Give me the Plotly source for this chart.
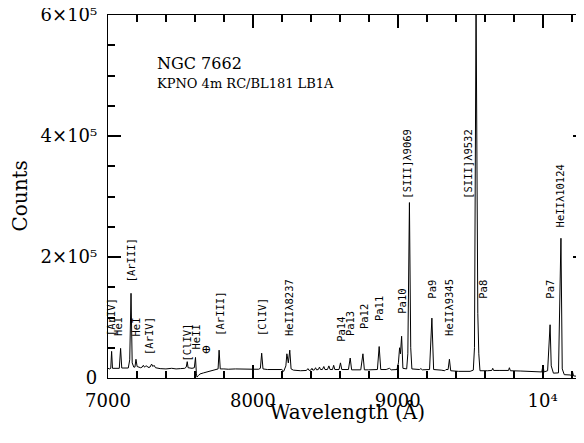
import plotly.graph_objects as go

# Spectrum of NGC 7662
wavelength = [
    7000, 7012, 7019, 7025, 7031, 7060, 7078, 7087, 7095, 7140,
    7150, 7159, 7167, 7178, 7186, 7193, 7201, 7225, 7236, 7244,
    7252, 7260, 7268, 7276, 7290, 7301, 7310, 7318, 7328, 7360,
    7400, 7440, 7470, 7500, 7530, 7540, 7547, 7553, 7580, 7596,
    7604, 7610, 7614, 7625, 7634, 7660, 7680, 7705, 7726, 7745,
    7760, 7767, 7775, 7800, 7830, 7880, 7920, 7960, 8000, 8040,
    8052, 8061, 8070, 8100, 8150, 8200, 8213, 8220, 8228, 8235,
    8245, 8255, 8264, 8280, 8330, 8370, 8380, 8388, 8400, 8408,
    8414, 8425, 8433, 8440, 8452, 8460, 8467, 8480, 8490, 8498,
    8515, 8525, 8533, 8550, 8558, 8566, 8595, 8605, 8614, 8660,
    8672, 8682, 8745, 8760, 8770, 8800, 8860, 8872, 8883, 8920,
    8943, 8955, 8995, 9005, 9013, 9019, 9027, 9036, 9062, 9070,
    9081, 9090, 9098, 9150, 9160, 9170, 9220, 9236, 9248, 9300,
    9325, 9333, 9348, 9357, 9366, 9420, 9500, 9522, 9530, 9541,
    9547, 9553, 9560, 9568, 9620, 9650, 9656, 9662, 9700, 9765,
    9771, 9778, 9850, 9900, 9950, 9995, 10003, 10010, 10035, 10045,
    10052, 10060, 10075, 10110, 10118, 10127, 10136, 10150, 10190, 10200,
    10207, 10214, 10250, 10300,
]
counts = [
    16000, 15000, 16000, 44000, 16000, 15500, 16000, 49000, 16500, 16500,
    30000, 140000, 25000, 18000, 18000, 31000, 19000, 17000, 18000, 21000,
    18000, 19500, 20000, 17500, 18000, 23000, 19000, 21000, 17000, 15500,
    15000, 16000, 15000, 15500, 16000, 18000, 27000, 17000, 16000, 17000,
    34000, 8000, 1500, 4000, 6600, 8500, 10000, 12000, 13000, 14000,
    15000, 46000, 15000, 15000, 14500, 15000, 14500, 15000, 14500, 14500,
    16000, 41000, 15000, 14000, 14000, 14000, 11000, 15000, 20000, 40000,
    25000, 46000, 15000, 13000, 12000, 12500, 15500, 12500, 13000, 16000,
    13000, 13500, 17000, 13500, 14000, 18000, 14000, 14000, 19000, 14000,
    14000, 20000, 14000, 14000, 21000, 14000, 14000, 25000, 14000, 14000,
    33000, 13500, 13500, 40000, 13500, 13500, 14000, 52000, 14000, 14000,
    16000, 13500, 14000, 25000, 50000, 40000, 69000, 16000, 15000, 40000,
    290000, 50000, 15000, 14000, 15500, 13500, 14000, 99000, 14000, 13000,
    12000, 14000, 14000, 31000, 12000, 11000, 11000, 13000, 50000, 620000,
    196000, 107000, 40000, 12000, 12000, 12500, 16000, 12500, 12500, 12500,
    17000, 12000, 11500, 11000, 10500, 10000, 21000, 10000, 12000, 50000,
    88000, 20000, 8000, 8500, 100000, 231000, 15000, 5500, 5000, 4000,
    10000, 3500, 2500, 1500,
]

# Line identifications: label text, wavelength, height of label base
line_names = [
    "[ArIV]", "HeI", "[ArIII]", "HeI", "[ArIV]", "[ClIV]", "HeII",
    "[ArIII]", "[ClIV]", "HeIIλ8237", "Pa14", "Pa13", "Pa12", "Pa11",
    "Pa10", "[SIII]λ9069", "Pa9", "HeIIλ9345", "[SIII]λ9532", "Pa8",
    "Pa7", "HeIIλ10124",
]
line_wave = [
    7021, 7072, 7161, 7200, 7283, 7542, 7606,
    7772, 8063, 8254, 8611, 8675, 8764, 8875,
    9024, 9068, 9238, 9357, 9483, 9591,
    10053, 10127,
]
line_label_base = [
    67800, 67800, 157000, 67800, 36400, 24800, 46000,
    67800, 67800, 67800, 57900, 67800, 79300, 92600,
    104000, 294000, 129000, 67800, 294000, 129000,
    129000, 248000,
]
telluric_wave = 7675
telluric_level = 48000

x_range = [7000, 10300]
y_range = [0, 600000]
x_tickvals = [7000, 8000, 9000, 10000]
x_ticktext = ["7000", "8000", "9000", "10⁴"]
y_tickvals = [0, 200000, 400000, 600000]
y_ticktext = ["0", "2×10⁵", "4×10⁵", "6×10⁵"]
x_minor_step = 200
y_minor_step = 50000

SERIF = "DejaVu Serif"
MONO = "DejaVu Sans Mono"

fig = go.Figure()
fig.add_trace(go.Scatter(x=wavelength, y=counts, mode="lines",
                         line=dict(color="black", width=1), showlegend=False))

for name, w, b in zip(line_names, line_wave, line_label_base):
    fig.add_annotation(x=w, y=b, xref="x", yref="y", text=name, textangle=-90,
                       xanchor="center", yanchor="bottom", showarrow=False,
                       borderpad=0, font=dict(family=MONO, size=10.5, color="black"))

fig.add_annotation(x=telluric_wave, y=telluric_level, xref="x", yref="y", text="⊕",
                   showarrow=False, xanchor="center", yanchor="middle",
                   font=dict(family=SERIF, size=12, color="black"))

fig.add_annotation(x=0.0982, y=0.866, xref="paper", yref="paper", text="NGC 7662",
                   showarrow=False, xanchor="left", yanchor="middle",
                   font=dict(family=SERIF, size=16, color="black"))
fig.add_annotation(x=0.0982, y=0.810, xref="paper", yref="paper",
                   text="KPNO 4m RC/BL181 LB1A",
                   showarrow=False, xanchor="left", yanchor="middle",
                   font=dict(family=SERIF, size=13, color="black"))

fig.add_annotation(x=0.5, y=-0.093, xref="paper", yref="paper", text="Wavelength (Å)",
                   showarrow=False, xanchor="center", yanchor="middle",
                   font=dict(family=SERIF, size=20, color="black"))
fig.add_annotation(x=-0.186, y=0.5, xref="paper", yref="paper", text="Counts",
                   textangle=-90, showarrow=False, xanchor="center", yanchor="middle",
                   font=dict(family=SERIF, size=20, color="black"))

axis_common = dict(
    showgrid=False, zeroline=False, showline=True, linecolor="black", linewidth=1.3,
    mirror="ticks", ticks="inside", ticklen=13, tickwidth=1.5, tickcolor="black",
    tickfont=dict(family=SERIF, size=18, color="black"),
    automargin=False, ticklabelstandoff=6, ticklabeloverflow="allow",
    tickmode="array",
)

fig.update_layout(
    width=584, height=443,
    margin=dict(l=100, r=5.5, t=7, b=73, pad=0),
    plot_bgcolor="white", paper_bgcolor="white",
    xaxis=dict(range=x_range, tickvals=x_tickvals, ticktext=x_ticktext,
               minor=dict(tickmode="linear", tick0=x_range[0], dtick=x_minor_step,
                          ticks="inside", ticklen=7, tickwidth=1.5, tickcolor="black",
                          showgrid=False),
               **axis_common),
    yaxis=dict(range=y_range, tickvals=y_tickvals, ticktext=y_ticktext,
               minor=dict(tickmode="linear", tick0=y_range[0], dtick=y_minor_step,
                          ticks="inside", ticklen=7, tickwidth=1.5, tickcolor="black",
                          showgrid=False),
               **axis_common),
)

fig.write_html("out.html")
